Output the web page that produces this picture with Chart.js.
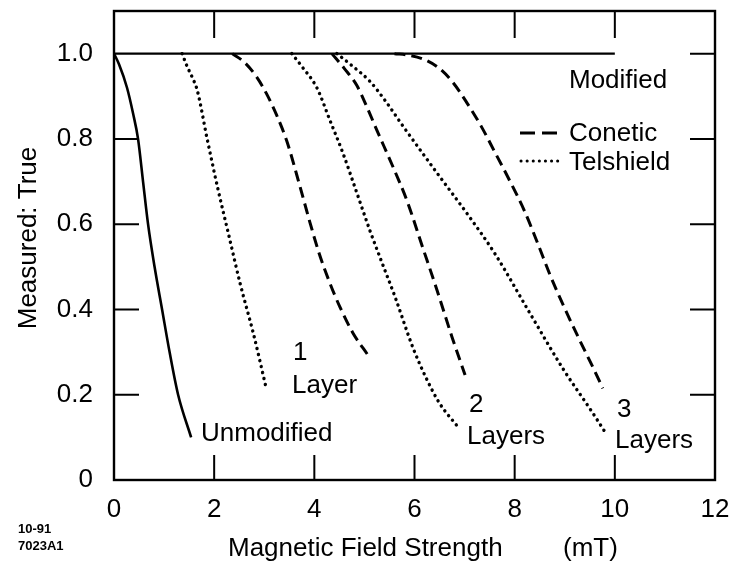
<!DOCTYPE html>
<html><head><meta charset="utf-8">
<script src="https://cdn.jsdelivr.net/npm/chart.js@4"></script>
<style>html,body{margin:0;padding:0;background:#fff;}canvas{display:block;}</style>
</head><body>
<canvas id="c" width="734" height="565"></canvas>
<script>
// ---- data ----
const xTickValues = [0, 2, 4, 6, 8, 10, 12];
const xTickLabels = ['0', '2', '4', '6', '8', '10', '12'];
const yTickValues = [0, 0.2, 0.4, 0.6, 0.8, 1.0];
const yTickLabels = ['0', '0.2', '0.4', '0.6', '0.8', '1.0'];

const modifiedX = [0, 10];
const modifiedY = [1.0, 1.0];

const unmodifiedX = [0, 0.10, 0.26, 0.38, 0.48, 0.58, 0.68, 0.81, 0.96, 1.11, 1.28, 1.54];
const unmodifiedY = [1.0, 0.975, 0.92, 0.86, 0.80, 0.70, 0.60, 0.50, 0.40, 0.30, 0.20, 0.10];

const telshield1X = [1.36, 1.46, 1.56, 1.66, 1.86, 2.08, 2.30, 2.52, 2.78, 3.04];
const telshield1Y = [1.0, 0.97, 0.945, 0.915, 0.80, 0.68, 0.57, 0.46, 0.345, 0.215];

const conetic1X = [2.36, 2.60, 2.85, 3.05, 3.25, 3.45, 3.71, 3.91, 4.10, 4.31, 4.51, 4.77, 5.07];
const conetic1Y = [1.0, 0.98, 0.945, 0.905, 0.855, 0.795, 0.69, 0.605, 0.53, 0.462, 0.406, 0.345, 0.293];

const telshield2X = [3.55, 3.75, 4.05, 4.31, 4.57, 4.85, 5.11, 5.35, 5.61, 5.97, 6.25, 6.50, 6.87];
const telshield2Y = [1.0, 0.97, 0.92, 0.844, 0.767, 0.673, 0.585, 0.51, 0.43, 0.31, 0.235, 0.18, 0.124];

const conetic2X = [4.35, 4.60, 4.85, 5.05, 5.25, 5.55, 5.85, 6.15, 6.45, 6.75, 7.01];
const conetic2Y = [1.0, 0.965, 0.925, 0.875, 0.82, 0.74, 0.655, 0.55, 0.445, 0.335, 0.246];

const telshield3X = [4.45, 4.77, 5.11, 5.45, 5.77, 6.45, 7.11, 7.61, 8.31, 8.97, 9.56, 9.84];
const telshield3Y = [1.0, 0.97, 0.935, 0.884, 0.83, 0.72, 0.615, 0.53, 0.39, 0.26, 0.157, 0.106];

const conetic3X = [5.60, 5.90, 6.20, 6.50, 6.77, 7.05, 7.33, 7.60, 7.91, 8.20, 8.46, 8.71, 8.97, 9.31, 9.56, 9.76];
const conetic3Y = [1.0, 0.996, 0.986, 0.965, 0.932, 0.884, 0.83, 0.77, 0.70, 0.63, 0.555, 0.48, 0.41, 0.325, 0.265, 0.215];

// ---- build ----
const FONT = '"Liberation Sans", Arial, Helvetica, sans-serif';
function pts(xs, ys) { return xs.map((v, i) => ({ x: v, y: ys[i] })); }
const solid = { borderColor: '#000', borderWidth: 2.6, pointRadius: 0, fill: false, cubicInterpolationMode: 'monotone' };
const dashed = { borderColor: '#000', borderWidth: 3, borderDash: [11, 6], pointRadius: 0, fill: false, cubicInterpolationMode: 'monotone' };
const dotted = { borderColor: '#000', borderWidth: 3.4, borderDash: [0.1, 6], borderCapStyle: 'round', pointRadius: 0, fill: false, cubicInterpolationMode: 'monotone' };

const datasets = [
  Object.assign({ label: 'Modified', data: pts(modifiedX, modifiedY) }, solid, { borderWidth: 2.4 }),
  Object.assign({ label: 'Unmodified', data: pts(unmodifiedX, unmodifiedY) }, solid),
  Object.assign({ label: 'Telshield 1 Layer', data: pts(telshield1X, telshield1Y) }, dotted),
  Object.assign({ label: 'Conetic 1 Layer', data: pts(conetic1X, conetic1Y) }, dashed),
  Object.assign({ label: 'Telshield 2 Layers', data: pts(telshield2X, telshield2Y) }, dotted),
  Object.assign({ label: 'Conetic 2 Layers', data: pts(conetic2X, conetic2Y) }, dashed),
  Object.assign({ label: 'Telshield 3 Layers', data: pts(telshield3X, telshield3Y) }, dotted),
  Object.assign({ label: 'Conetic 3 Layers', data: pts(conetic3X, conetic3Y) }, dashed)
];

const decor = {
  id: 'decor',
  afterDraw(chart) {
    const ctx = chart.ctx, a = chart.chartArea;
    const xs = chart.scales.x, ys = chart.scales.y;
    ctx.save();
    ctx.strokeStyle = '#000';
    ctx.lineWidth = 2.4;
    ctx.lineCap = 'butt';
    ctx.strokeRect(a.left, a.top, a.right - a.left, a.bottom - a.top);
    // inward ticks
    ctx.lineWidth = 2;
    ctx.beginPath();
    [2, 4, 6, 8, 10].forEach(v => {
      const p = xs.getPixelForValue(v);
      ctx.moveTo(p, a.bottom); ctx.lineTo(p, a.bottom - 25);
      ctx.moveTo(p, a.top); ctx.lineTo(p, a.top + 27);
    });
    [0.2, 0.4, 0.6, 0.8].forEach(v => {
      const p = ys.getPixelForValue(v);
      ctx.moveTo(a.left, p); ctx.lineTo(a.left + 25, p);
    });
    [0.2, 0.4, 0.6, 0.8, 1.0].forEach(v => {
      const p = ys.getPixelForValue(v);
      ctx.moveTo(a.right, p); ctx.lineTo(a.right - 25, p);
    });
    ctx.stroke();

    // legend samples
    ctx.lineWidth = 3;
    ctx.setLineDash([]);
    ctx.beginPath();
    ctx.moveTo(520, 133); ctx.lineTo(535, 133);
    ctx.moveTo(542, 133); ctx.lineTo(557, 133);
    ctx.stroke();
    ctx.lineWidth = 3;
    ctx.lineCap = 'round';
    ctx.setLineDash([0.1, 6]);
    ctx.beginPath();
    ctx.moveTo(521, 161); ctx.lineTo(558, 161);
    ctx.stroke();
    ctx.setLineDash([]);

    // texts
    ctx.fillStyle = '#000';
    ctx.textBaseline = 'alphabetic';
    ctx.textAlign = 'left';
    ctx.font = '26px ' + FONT;
    const T = (s, x, y) => ctx.fillText(s, x, y);
    T('Modified', 569, 88);
    T('Conetic', 569, 141);
    T('Telshield', 569, 170);
    T('1', 293, 360);
    T('Layer', 292, 393);
    T('Unmodified', 201, 441);
    T('2', 469, 412);
    T('Layers', 467, 444);
    T('3', 617, 417);
    T('Layers', 615, 448);
    // axis titles
    T('Magnetic Field Strength', 228, 556);
    T('(mT)', 563, 556);
    ctx.save();
    ctx.translate(36, 238);
    ctx.rotate(-Math.PI / 2);
    ctx.textAlign = 'center';
    ctx.fillText('Measured: True', 0, 0);
    ctx.restore();
    // footnote
    ctx.font = 'bold 13px ' + FONT;
    T('10-91', 18, 533);
    T('7023A1', 18, 550);
    ctx.restore();
  }
};

new Chart(document.getElementById('c'), {
  type: 'line',
  data: { datasets },
  options: {
    responsive: false,
    animation: false,
    devicePixelRatio: 1,
    layout: { padding: { left: 0, top: 11, right: 19, bottom: 0 } },
    plugins: { legend: { display: false }, tooltip: { enabled: false } },
    scales: {
      x: {
        type: 'linear', min: 0, max: 12,
        afterBuildTicks: s => { s.ticks = xTickValues.map(v => ({ value: v })); },
        afterFit: s => { s.height = 85; s.paddingLeft = 0; s.paddingRight = 0; s.paddingTop = 0; s.paddingBottom = 0; },
        ticks: { callback: (v, i) => xTickLabels[i], font: { family: FONT, size: 26 }, color: '#000', padding: 14, maxRotation: 0, autoSkip: false },
        grid: { display: false, drawTicks: false },
        border: { display: false }
      },
      y: {
        type: 'linear', min: 0, max: 1.1,
        afterBuildTicks: s => { s.ticks = yTickValues.map(v => ({ value: v })); },
        afterFit: s => { s.width = 114; s.paddingLeft = 0; s.paddingRight = 0; s.paddingTop = 0; s.paddingBottom = 0; },
        ticks: { callback: (v, i) => yTickLabels[i], font: { family: FONT, size: 26 }, color: '#000', padding: 21, autoSkip: false },
        grid: { display: false, drawTicks: false },
        border: { display: false }
      }
    }
  },
  plugins: [decor]
});
</script>
</body></html>
